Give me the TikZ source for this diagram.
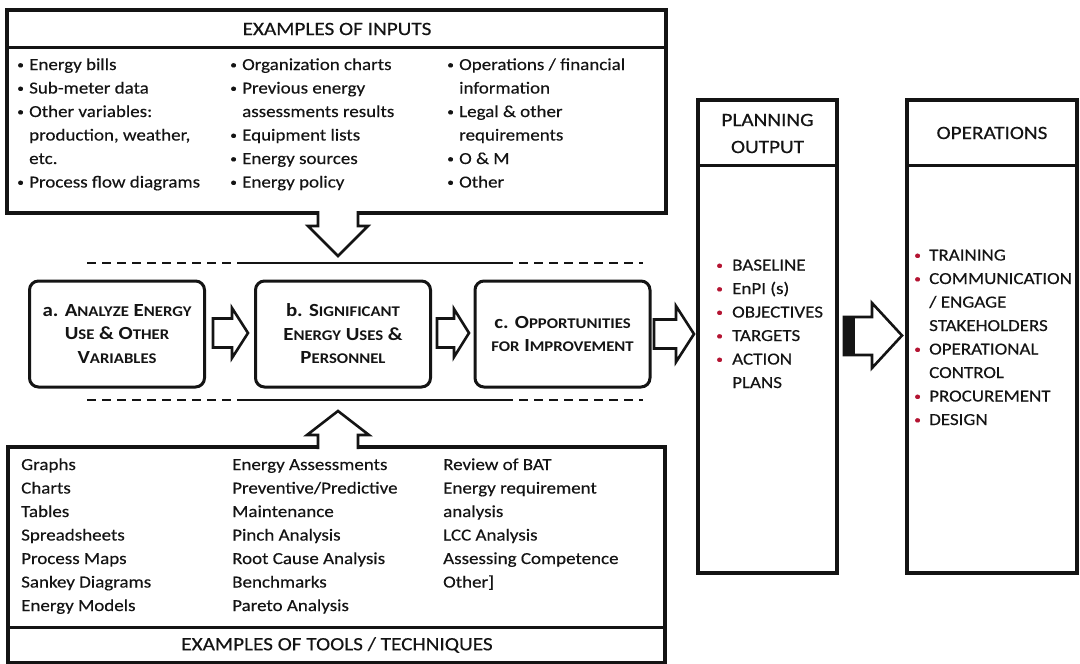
\documentclass[tikz,border=0pt]{standalone}
\usepackage{fontspec}
\setmainfont{Carlito}[FakeStretch=1.13, UprightFeatures={FakeBold=0.35}]
\definecolor{bulred}{RGB}{180,20,50}
\definecolor{ink}{RGB}{20,20,20}
\newcommand\bodyfont{\fontsize{16.8}{23.5}\selectfont}
\newcommand\titlefont{\fontsize{18.8}{27}\selectfont}
\newcommand\midfont{\fontsize{18.5}{23.5}\selectfont\bfseries}
\newcommand\smcap[1]{{\fontsize{14.8}{23.5}\selectfont #1}}
\newcommand\smalldot{\raisebox{1.3pt}{\fontsize{12}{12}\selectfont\textbullet}}
\newcommand\bul{\makebox[12pt][l]{\smalldot}}
\newcommand\ind{\hspace*{12pt}}
\newcommand\rbul{\makebox[18pt][l]{\hspace*{2pt}\color{bulred}\smalldot}}
\newcommand\rind{\hspace*{18pt}}
\newcommand\obul{\makebox[17pt][l]{\hspace*{2pt}\color{bulred}\smalldot}}
\newcommand\oind{\hspace*{17pt}}
\tikzset{
  frame/.style={draw=ink, line width=3.5pt},
  divider/.style={draw=ink, line width=3pt},
  rbox/.style={draw=ink, line width=3pt, rounded corners=9pt, minimum width=175pt,
     minimum height=106pt, align=center, font=\midfont, text=ink, inner sep=0pt},
  blockarrow/.style={draw=ink, line width=2.6pt, fill=white, line join=miter},
  sepline/.style={draw=ink, line width=2.4pt},
  dashline/.style={draw=ink, line width=2.4pt, dash pattern=on 9pt off 6pt},
  item/.style={anchor=base west, inner sep=0pt, font=\bodyfont, text=ink},
  ttl/.style={anchor=center, inner sep=0pt, font=\titlefont, text=ink, align=center}
}
\newcommand\blockR[6]{% tail x, head base x, tip x, centre y, stem half, head half
  \draw[blockarrow] (#1,#4-#5) -- (#2,#4-#5) -- (#2,#4-#6) -- (#3,#4) -- (#2,#4+#6)
     -- (#2,#4+#5) -- (#1,#4+#5) -- cycle;}
\begin{document}
\begin{tikzpicture}[x=1pt,y=-1pt]
\useasboundingbox[fill=white] (0,0) rectangle (1080,664);

% ---------- top box: examples of inputs
\node[frame, minimum width=659pt, minimum height=203pt, inner sep=0pt] (inbox) at (336.5,111.5) {};
\draw[divider] (inbox.north west |- 0,47) -- (inbox.north east |- 0,47);
\node[ttl] (intitle) at (337,29) {EXAMPLES OF INPUTS};
\foreach \t [count=\i] in {\bul Energy bills, \bul Sub-meter data, \bul Other variables:,
   {\ind production, weather,}, \ind etc., \bul Process flow diagrams}
  \node[item] (ia\i) at (17,{70+(\i-1)*23.5}) {\t};
\foreach \t [count=\i] in {\bul Organization charts, \bul Previous energy,
   \ind assessments results, \bul Equipment lists, \bul Energy sources, \bul Energy policy}
  \node[item] (ib\i) at (230,{70+(\i-1)*23.5}) {\t};
\foreach \t [count=\i] in {\bul Operations / financial, \ind information, \bul Legal \& other,
   \ind requirements, \bul O \& M, \bul Other}
  \node[item] (ic\i) at (447,{70+(\i-1)*23.5}) {\t};

% down arrow from inputs
\draw[blockarrow] (318,211) -- (318,226) -- (308,226) -- (338,256) -- (368,226) -- (358,226) -- (358,211);

% ---------- bottom box: tools / techniques
\node[frame, minimum width=657pt, minimum height=216pt, inner sep=0pt] (toolbox) at (336.5,555) {};
\draw[divider] (toolbox.south west |- 0,627) -- (toolbox.south east |- 0,627);
\node[ttl] (tooltitle) at (337,645) {EXAMPLES OF TOOLS / TECHNIQUES};
\foreach \t [count=\i] in {Graphs, Charts, Tables, Spreadsheets, Process Maps, Sankey Diagrams, Energy Models}
  \node[item] (ta\i) at (21,{470+(\i-1)*23.5}) {\t};
\foreach \t [count=\i] in {Energy Assessments, Preventive/Predictive, Maintenance, Pinch Analysis,
   Root Cause Analysis, Benchmarks, Pareto Analysis}
  \node[item] (tb\i) at (232,{470+(\i-1)*23.5}) {\t};
\foreach \t [count=\i] in {Review of BAT, Energy requirement, analysis, LCC Analysis,
   Assessing Competence, Other]}
  \node[item] (tc\i) at (443,{470+(\i-1)*23.5}) {\t};

% up arrow from tools
\draw[blockarrow] (318,449) -- (318,435) -- (307,435) -- (338,411) -- (369,435) -- (358,435) -- (358,449);

% ---------- separator lines
\draw[dashline] (87,263) -- (241,263);
\draw[sepline] (241,263) -- (504,263);
\draw[dashline] (504,263) -- (643,263);
\draw[dashline] (87,400) -- (241,400);
\draw[sepline] (241,400) -- (504,400);
\draw[dashline] (504,400) -- (643,400);

% ---------- middle process boxes
\node[rbox] (a) at (117,334) {a. A\smcap{NALYZE} E\smcap{NERGY}\\ U\smcap{SE} \& O\smcap{THER}\\ V\smcap{ARIABLES}};
\node[rbox] (b) at (343,334) {b. S\smcap{IGNIFICANT}\\ E\smcap{NERGY} U\smcap{SES} \&\\ P\smcap{ERSONNEL}};
\node[rbox] (c) at (562.5,334) {c. O\smcap{PPORTUNITIES}\\ \smcap{FOR} I\smcap{MPROVEMENT}};

\blockR{213}{232}{248}{333}{14.5}{25}
\blockR{437}{454}{469}{333}{14.5}{24}
\blockR{654}{676}{694}{334}{14.5}{28}

% ---------- planning output
\node[frame, minimum width=139pt, minimum height=473pt, inner sep=0pt] (plan) at (767.5,336.5) {};
\draw[divider] (plan.west |- 0,165) -- (plan.east |- 0,165);
\node[ttl] (plantitle) at (767.5,133.5) {PLANNING\\OUTPUT};
\foreach \t [count=\i] in {\rbul BASELINE, \rbul EnPI (s), \rbul OBJECTIVES, \rbul TARGETS,
   \rbul ACTION, \rind PLANS}
  \node[item] (p\i) at (714,{270.5+(\i-1)*23.5}) {\t};

% big arrow planning -> operations
\draw[blockarrow] (844,317) -- (872,317) -- (872,303) -- (902,335.5) -- (872,368) -- (872,355) -- (844,355) -- cycle;
\fill[ink] (844,317) rectangle (855,355);

% ---------- operations
\node[frame, minimum width=170pt, minimum height=473pt, inner sep=0pt] (ops) at (992,336.5) {};
\draw[divider] (ops.west |- 0,165) -- (ops.east |- 0,165);
\node[ttl] (opstitle) at (992,133) {OPERATIONS};
\foreach \t [count=\i] in {\obul TRAINING, \obul COMMUNICATION, \oind / ENGAGE, \oind STAKEHOLDERS,
   \obul OPERATIONAL, \oind CONTROL, \obul PROCUREMENT, \obul DESIGN}
  \node[item] (o\i) at (912,{260.5+(\i-1)*23.5}) {\t};
\end{tikzpicture}
\end{document}
